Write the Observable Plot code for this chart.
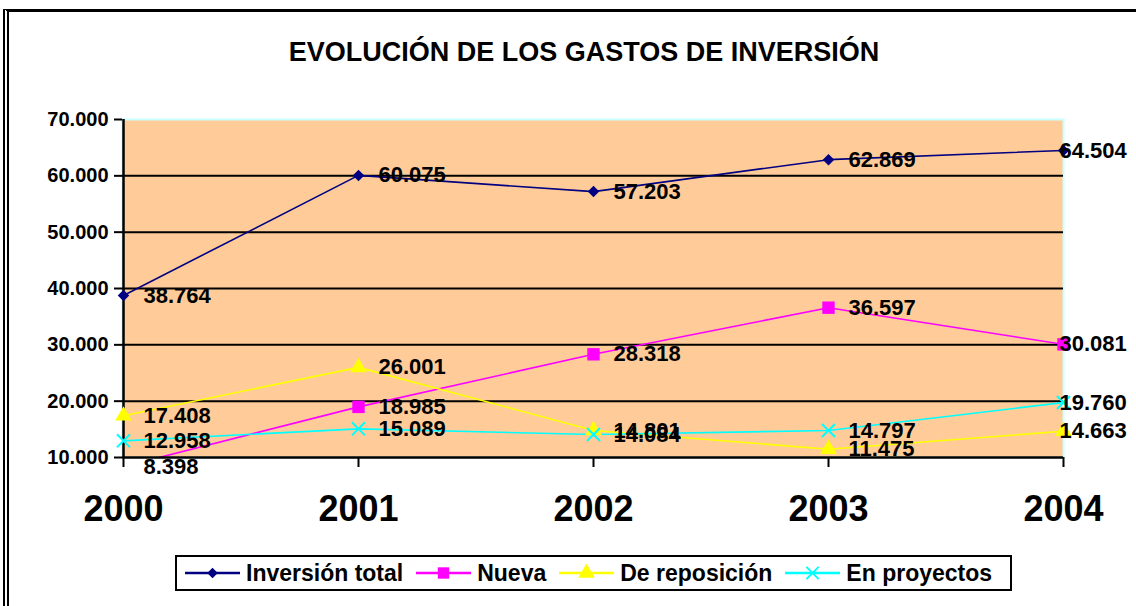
<!DOCTYPE html>
<html><head><meta charset="utf-8">
<script src="https://cdn.jsdelivr.net/npm/d3@7"></script>
<script src="https://cdn.jsdelivr.net/npm/@observablehq/plot@0.6"></script>
<style>
body{margin:0;background:#fff;font-family:"Liberation Sans",Arial,sans-serif;}
#wrap{position:relative;width:1136px;height:606px;overflow:hidden;background:#fff}
#frame{position:absolute;left:3px;top:9px;width:1200px;height:700px;border-top:3px solid #000;border-left:6px double #000;}
#title{position:absolute;top:37px;left:16px;width:1136px;text-align:center;font-weight:bold;font-size:27px;color:#000;}
#chart{position:absolute;left:0;top:0;}
#legend{position:absolute;left:175px;top:555px;width:825px;height:32px;border:2px solid #000;background:#fff;display:flex;align-items:center;padding-left:8px;box-sizing:content-box;}
#legend .item{display:flex;align-items:center;margin-right:13px;font-weight:bold;font-size:23px;color:#000;white-space:nowrap;}
#legend svg{margin-right:6px;}
</style></head>
<body>
<div id="wrap">
  <div id="frame"></div>
  <div id="chart"></div>
  <div id="title">EVOLUCIÓN DE LOS GASTOS DE INVERSIÓN</div>
  <div id="legend"></div>
</div>
<script>
const years = [2000, 2001, 2002, 2003, 2004];
const inversionTotal = [38764, 60075, 57203, 62869, 64504];
const nueva = [8398, 18985, 28318, 36597, 30081];
const reposicion = [17408, 26001, 14801, 11475, 14663];
const proyectos = [12958, 15089, 14084, 14797, 19760];
const seriesNames = ["Inversión total", "Nueva", "De reposición", "En proyectos"];
const yTicks = [10000, 20000, 30000, 40000, 50000, 60000, 70000];
const gridTicks = [20000, 30000, 40000, 50000, 60000];

// styling (not data)
const seriesColors = ["#000080", "#FF00FF", "#FFFF00", "#00FFFF"];
const seriesSymbols = ["diamond2", "square", "triangle", "times"];
const markerR = [5.2, 7, 6.2, 6];

const allSeries = [inversionTotal, nueva, reposicion, proyectos];
const data = [];
allSeries.forEach((vals, i) => vals.forEach((v, j) => data.push({series: seriesNames[i], year: years[j], value: v})));

const yMin = yTicks[0];
const fmt = v => d3.format(",.0f")(v).replace(/,/g, ".");

const dotMarks = seriesNames.map((name, i) => {
  const stroked = seriesSymbols[i] === "times";
  return Plot.dot(data, {
    filter: d => d.series === name && d.value >= yMin, x: "year", y: "value", symbol: "series",
    r: markerR[i],
    ...(stroked ? {stroke: "series", strokeWidth: 2, fill: "none"} : {fill: "series", stroke: "none"})
  });
});

const plot = Plot.plot({
  width: 1136,
  height: 545,
  marginLeft: 122,
  marginRight: 73,
  marginTop: 119,
  marginBottom: 88,
  style: {fontFamily: "'Liberation Sans', Arial, sans-serif", color: "#000", background: "transparent", overflow: "visible"},
  x: {type: "point", domain: years, padding: 0},
  y: {domain: [10000, 70000]},
  color: {domain: seriesNames, range: seriesColors},
  symbol: {domain: seriesNames, range: seriesSymbols},
  marks: [
    Plot.frame({fill: "#FFCC99", stroke: "#CCFFFF", strokeWidth: 2}),
    Plot.ruleY(gridTicks, {stroke: "#000", strokeWidth: 2}),
    Plot.lineY(data, {x: "year", y: "value", z: "series", stroke: "series", strokeWidth: 1.6, clip: true}),
    Plot.ruleY([10000], {stroke: "#000", strokeWidth: 2.5}),
    Plot.ruleX([2000], {stroke: "#000", strokeWidth: 2.5}),
    Plot.axisY({ticks: yTicks, tickFormat: fmt, tickSize: 8, tickPadding: 6, fontSize: 20, fontWeight: "bold", label: null, strokeWidth: 2}),
    Plot.axisX({tickSize: 10, tickPadding: 28, fontSize: 36, fontWeight: "bold", label: null, tickFormat: d => String(d), strokeWidth: 2}),
    ...dotMarks,
    Plot.text(data, {filter: d => d.year !== 2004, x: "year", y: "value", text: d => fmt(d.value), textAnchor: "start", dx: 20, fontSize: 22, fontWeight: "bold", fill: "#000"}),
    Plot.text(data, {filter: d => d.year === 2004, x: "year", y: "value", text: d => fmt(d.value), textAnchor: "start", dx: -4, fontSize: 22, fontWeight: "bold", fill: "#000"})
  ]
});
document.getElementById("chart").appendChild(plot);

// Legend
const legend = document.getElementById("legend");
const d3Sym = {diamond2: d3.symbolDiamond2, square: d3.symbolSquare, triangle: d3.symbolTriangle, times: d3.symbolTimes};
const legendSize = [70, 130, 120, 100];
seriesNames.forEach((name, i) => {
  const item = document.createElement("div");
  item.className = "item";
  const w = 55, h = 20;
  const svg = d3.create("svg").attr("width", w).attr("height", h);
  svg.append("line").attr("x1", 0).attr("x2", w).attr("y1", h / 2).attr("y2", h / 2).attr("stroke", seriesColors[i]).attr("stroke-width", 2.5);
  const s = seriesSymbols[i];
  const path = d3.symbol(d3Sym[s], legendSize[i])();
  const p = svg.append("path").attr("d", path).attr("transform", `translate(${w / 2},${h / 2})`);
  if (s === "times") p.attr("fill", "none").attr("stroke", seriesColors[i]).attr("stroke-width", 2);
  else p.attr("fill", seriesColors[i]);
  item.appendChild(svg.node());
  const t = document.createElement("span");
  t.textContent = name;
  item.appendChild(t);
  legend.appendChild(item);
});
</script>
</body></html>
